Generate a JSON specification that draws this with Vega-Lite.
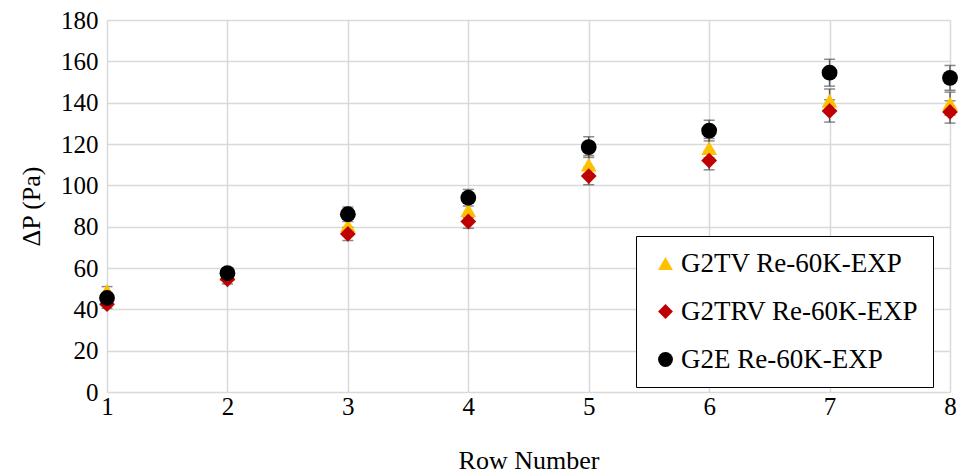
{
  "$schema": "https://vega.github.io/schema/vega-lite/v6.json",
  "width": 843,
  "height": 372,
  "autosize": {"type": "none"},
  "padding": {"left": 107, "top": 20, "right": 15, "bottom": 84},
  "background": "white",
  "config": {
    "view": {"stroke": null},
    "font": "Liberation Serif",
    "axis": {
      "labelFont": "Liberation Serif",
      "titleFont": "Liberation Serif",
      "labelColor": "#000000",
      "titleColor": "#000000",
      "labelFontSize": 25,
      "titleFontSize": 26,
      "titleFontWeight": "normal",
      "gridColor": "#d9d9d9",
      "gridWidth": 1.5,
      "domain": false,
      "ticks": false,
      "labelFlush": false
    },
    "legend": {
      "labelFont": "Liberation Serif"
    }
  },
  "data": {
    "values": [
      {"series": "G2TV Re-60K-EXP", "row": 1, "dp": 49, "err": 2},
      {"series": "G2TV Re-60K-EXP", "row": 2, "dp": 57, "err": 2.3},
      {"series": "G2TV Re-60K-EXP", "row": 3, "dp": 80.5, "err": 3.2},
      {"series": "G2TV Re-60K-EXP", "row": 4, "dp": 88, "err": 3.5},
      {"series": "G2TV Re-60K-EXP", "row": 5, "dp": 110, "err": 4.4},
      {"series": "G2TV Re-60K-EXP", "row": 6, "dp": 118, "err": 4.7},
      {"series": "G2TV Re-60K-EXP", "row": 7, "dp": 141, "err": 5.6},
      {"series": "G2TV Re-60K-EXP", "row": 8, "dp": 139.5, "err": 5.6},
      {"series": "G2TRV Re-60K-EXP", "row": 1, "dp": 42.5, "err": 2},
      {"series": "G2TRV Re-60K-EXP", "row": 2, "dp": 54.5, "err": 2.2},
      {"series": "G2TRV Re-60K-EXP", "row": 3, "dp": 76.5, "err": 3.2},
      {"series": "G2TRV Re-60K-EXP", "row": 4, "dp": 82.5, "err": 3.3},
      {"series": "G2TRV Re-60K-EXP", "row": 5, "dp": 104.5, "err": 4.2},
      {"series": "G2TRV Re-60K-EXP", "row": 6, "dp": 112, "err": 4.5},
      {"series": "G2TRV Re-60K-EXP", "row": 7, "dp": 136, "err": 5.4},
      {"series": "G2TRV Re-60K-EXP", "row": 8, "dp": 135.5, "err": 5.4},
      {"series": "G2E Re-60K-EXP", "row": 1, "dp": 45.5, "err": 2},
      {"series": "G2E Re-60K-EXP", "row": 2, "dp": 57.5, "err": 2.5},
      {"series": "G2E Re-60K-EXP", "row": 3, "dp": 86, "err": 3.5},
      {"series": "G2E Re-60K-EXP", "row": 4, "dp": 94, "err": 4},
      {"series": "G2E Re-60K-EXP", "row": 5, "dp": 118.5, "err": 5},
      {"series": "G2E Re-60K-EXP", "row": 6, "dp": 126.5, "err": 5},
      {"series": "G2E Re-60K-EXP", "row": 7, "dp": 154.5, "err": 6.5},
      {"series": "G2E Re-60K-EXP", "row": 8, "dp": 152, "err": 6}
    ]
  },
  "encoding": {
    "x": {
      "field": "row",
      "type": "quantitative",
      "scale": {"domain": [1, 8], "nice": false, "zero": false},
      "axis": {"values": [1, 2, 3, 4, 5, 6, 7, 8], "title": "Row Number", "labelPadding": 2, "titlePadding": 28, "format": "d"}
    },
    "y": {
      "field": "dp",
      "type": "quantitative",
      "title": "ΔP (Pa)",
      "scale": {"domain": [0, 180], "nice": false},
      "axis": {"values": [0, 20, 40, 60, 80, 100, 120, 140, 160, 180], "title": "ΔP (Pa)", "labelPadding": 9, "titlePadding": 16}
    }
  },
  "layer": [
    {
      "mark": {"type": "errorbar", "ticks": {"color": "#595959", "size": 11, "thickness": 1.5}, "rule": {"color": "#595959", "strokeWidth": 1.5}},
      "encoding": {
        "y": {"field": "dp", "type": "quantitative", "title": "ΔP (Pa)", "scale": {"domain": [0, 180], "nice": false}},
        "yError": {"field": "err"}
      }
    },
    {
      "mark": {"type": "point", "filled": true, "opacity": 1},
      "encoding": {
        "color": {
          "field": "series",
          "type": "nominal",
          "sort": ["G2TV Re-60K-EXP", "G2TRV Re-60K-EXP", "G2E Re-60K-EXP"],
          "scale": {"domain": ["G2TV Re-60K-EXP", "G2TRV Re-60K-EXP", "G2E Re-60K-EXP"], "range": ["#FFC000", "#C00000", "#000000"]},
          "legend": {
            "title": null,
            "orient": "none",
            "legendX": 529,
            "legendY": 216,
            "strokeColor": "#000000",
            "fillColor": "white",
            "padding": 14,
            "symbolOffset": 2,
            "labelFont": "Liberation Serif",
            "labelFontSize": 27,
            "labelColor": "#000000",
            "labelLimit": 400,
            "symbolSize": 220,
            "rowPadding": 20,
            "labelOffset": 2,
            "offset": 0
          }
        },
        "shape": {
          "field": "series",
          "type": "nominal",
          "sort": ["G2TV Re-60K-EXP", "G2TRV Re-60K-EXP", "G2E Re-60K-EXP"],
          "scale": {"domain": ["G2TV Re-60K-EXP", "G2TRV Re-60K-EXP", "G2E Re-60K-EXP"], "range": ["triangle-up", "diamond", "circle"]}
        },
        "size": {"value": 250}
      }
    }
  ]
}
